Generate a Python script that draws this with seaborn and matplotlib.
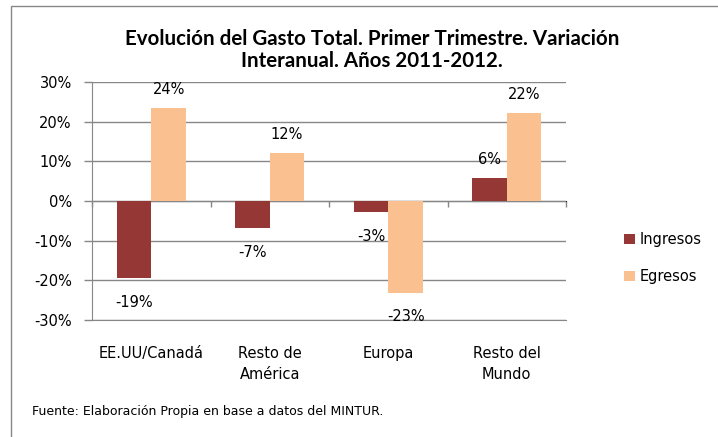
import pandas as pd
import matplotlib.pyplot as plt
import seaborn as sns
from matplotlib.patches import Patch, Rectangle
from matplotlib.ticker import FuncFormatter

# --- data ---
regions = ["EE.UU/Canadá", "Resto de\nAmérica", "Europa", "Resto del\nMundo"]
series = ["Ingresos", "Egresos"]
ingresos = [-19.4, -6.8, -2.8, 5.8]
egresos = [23.4, 12.1, -23.1, 22.1]
ingresos_labels = ["-19%", "-7%", "-3%", "6%"]
egresos_labels = ["24%", "12%", "-23%", "22%"]
yticks = [-30, -20, -10, 0, 10, 20, 30]

df = pd.DataFrame({
    "region": regions * 2,
    "serie": [series[0]] * 4 + [series[1]] * 4,
    "valor": ingresos + egresos,
})

sns.set_style("white")
plt.rcParams["font.family"] = ["DejaVu Sans"]
plt.rcParams["text.color"] = "black"
plt.rcParams["xtick.color"] = "black"
plt.rcParams["ytick.color"] = "black"

colors = ["#953735", "#FAC090"]
grid_col = "#878787"

fig = plt.figure(figsize=(7.18, 4.37), dpi=100)
ax = fig.add_axes([92 / 718, 1 - 320 / 437, 474 / 718, 238 / 437])

sns.barplot(data=df, x="region", y="valor", hue="serie", palette=colors,
            width=0.585, saturation=1, legend=False, linewidth=0, ax=ax)

ax.set_ylim(-30, 30)
ax.set_xlim(-0.5, 3.5)
ax.set_yticks(yticks)
ax.yaxis.set_major_formatter(FuncFormatter(lambda v, p: f"{v:.0f}%"))
ax.grid(axis="y", color=grid_col, linewidth=1)
ax.set_axisbelow(True)
ax.set_xlabel("")
ax.set_ylabel("")

for s in ["top", "right"]:
    ax.spines[s].set_visible(False)
ax.spines["left"].set_color(grid_col)
ax.spines["bottom"].set_color(grid_col)
ax.tick_params(axis="y", length=6, color=grid_col, width=1, pad=8.5,
               labelsize=10.5, left=True, labelcolor="black")
ax.tick_params(axis="x", length=0, pad=19, labelsize=10.5, labelcolor="black")
for t in ax.get_xticklabels():
    t.set_linespacing(1.45)

# category axis sits at 0 with ticks between groups
secax = ax.secondary_xaxis(0.5)
secax.set_xticks([-0.5, 0.5, 1.5, 2.5, 3.5])
secax.set_xticklabels([])
secax.xaxis.set_ticks_position("bottom")
secax.tick_params(length=4.5, color=grid_col, width=1, direction="out")
secax.spines["bottom"].set_color(grid_col)

# data labels: a bit closer above positive bars, a bit further below negative ones
for cont, labs, vals in zip(ax.containers, [ingresos_labels, egresos_labels],
                            [ingresos, egresos]):
    pos = [l if v >= 0 else "" for l, v in zip(labs, vals)]
    neg = [l if v < 0 else "" for l, v in zip(labs, vals)]
    ax.bar_label(cont, labels=pos, padding=8, fontsize=10.5, color="black")
    ax.bar_label(cont, labels=neg, padding=12, fontsize=10.5, color="black")

fig.text(0.518, 1 - 50 / 437,
         "Evolución del Gasto Total. Primer Trimestre. Variación\nInteranual. Años 2011-2012.",
         ha="center", va="center", fontsize=14.8, fontweight="bold",
         family=["Lato", "DejaVu Sans"], linespacing=1.18, color="black")

handles = [Patch(facecolor=c, edgecolor="none") for c in colors]
fig.legend(handles, series, loc="center left",
           bbox_to_anchor=(624 / 718, 1 - 258 / 437), frameon=False,
           fontsize=10.5, handlelength=0.75, handleheight=0.75,
           handletextpad=0.35, labelspacing=1.5, borderpad=0, borderaxespad=0)

fig.text(32 / 718, 1 - 411 / 437,
         "Fuente: Elaboración Propia en base a datos del MINTUR.",
         ha="left", va="center", fontsize=9, color="black")

fig.patches.append(Rectangle((11 / 718, -0.1), 1.2, 1.1 - 6 / 437,
                             transform=fig.transFigure, fill=False,
                             edgecolor=grid_col, linewidth=1))

fig.savefig("out.png", dpi=100)
